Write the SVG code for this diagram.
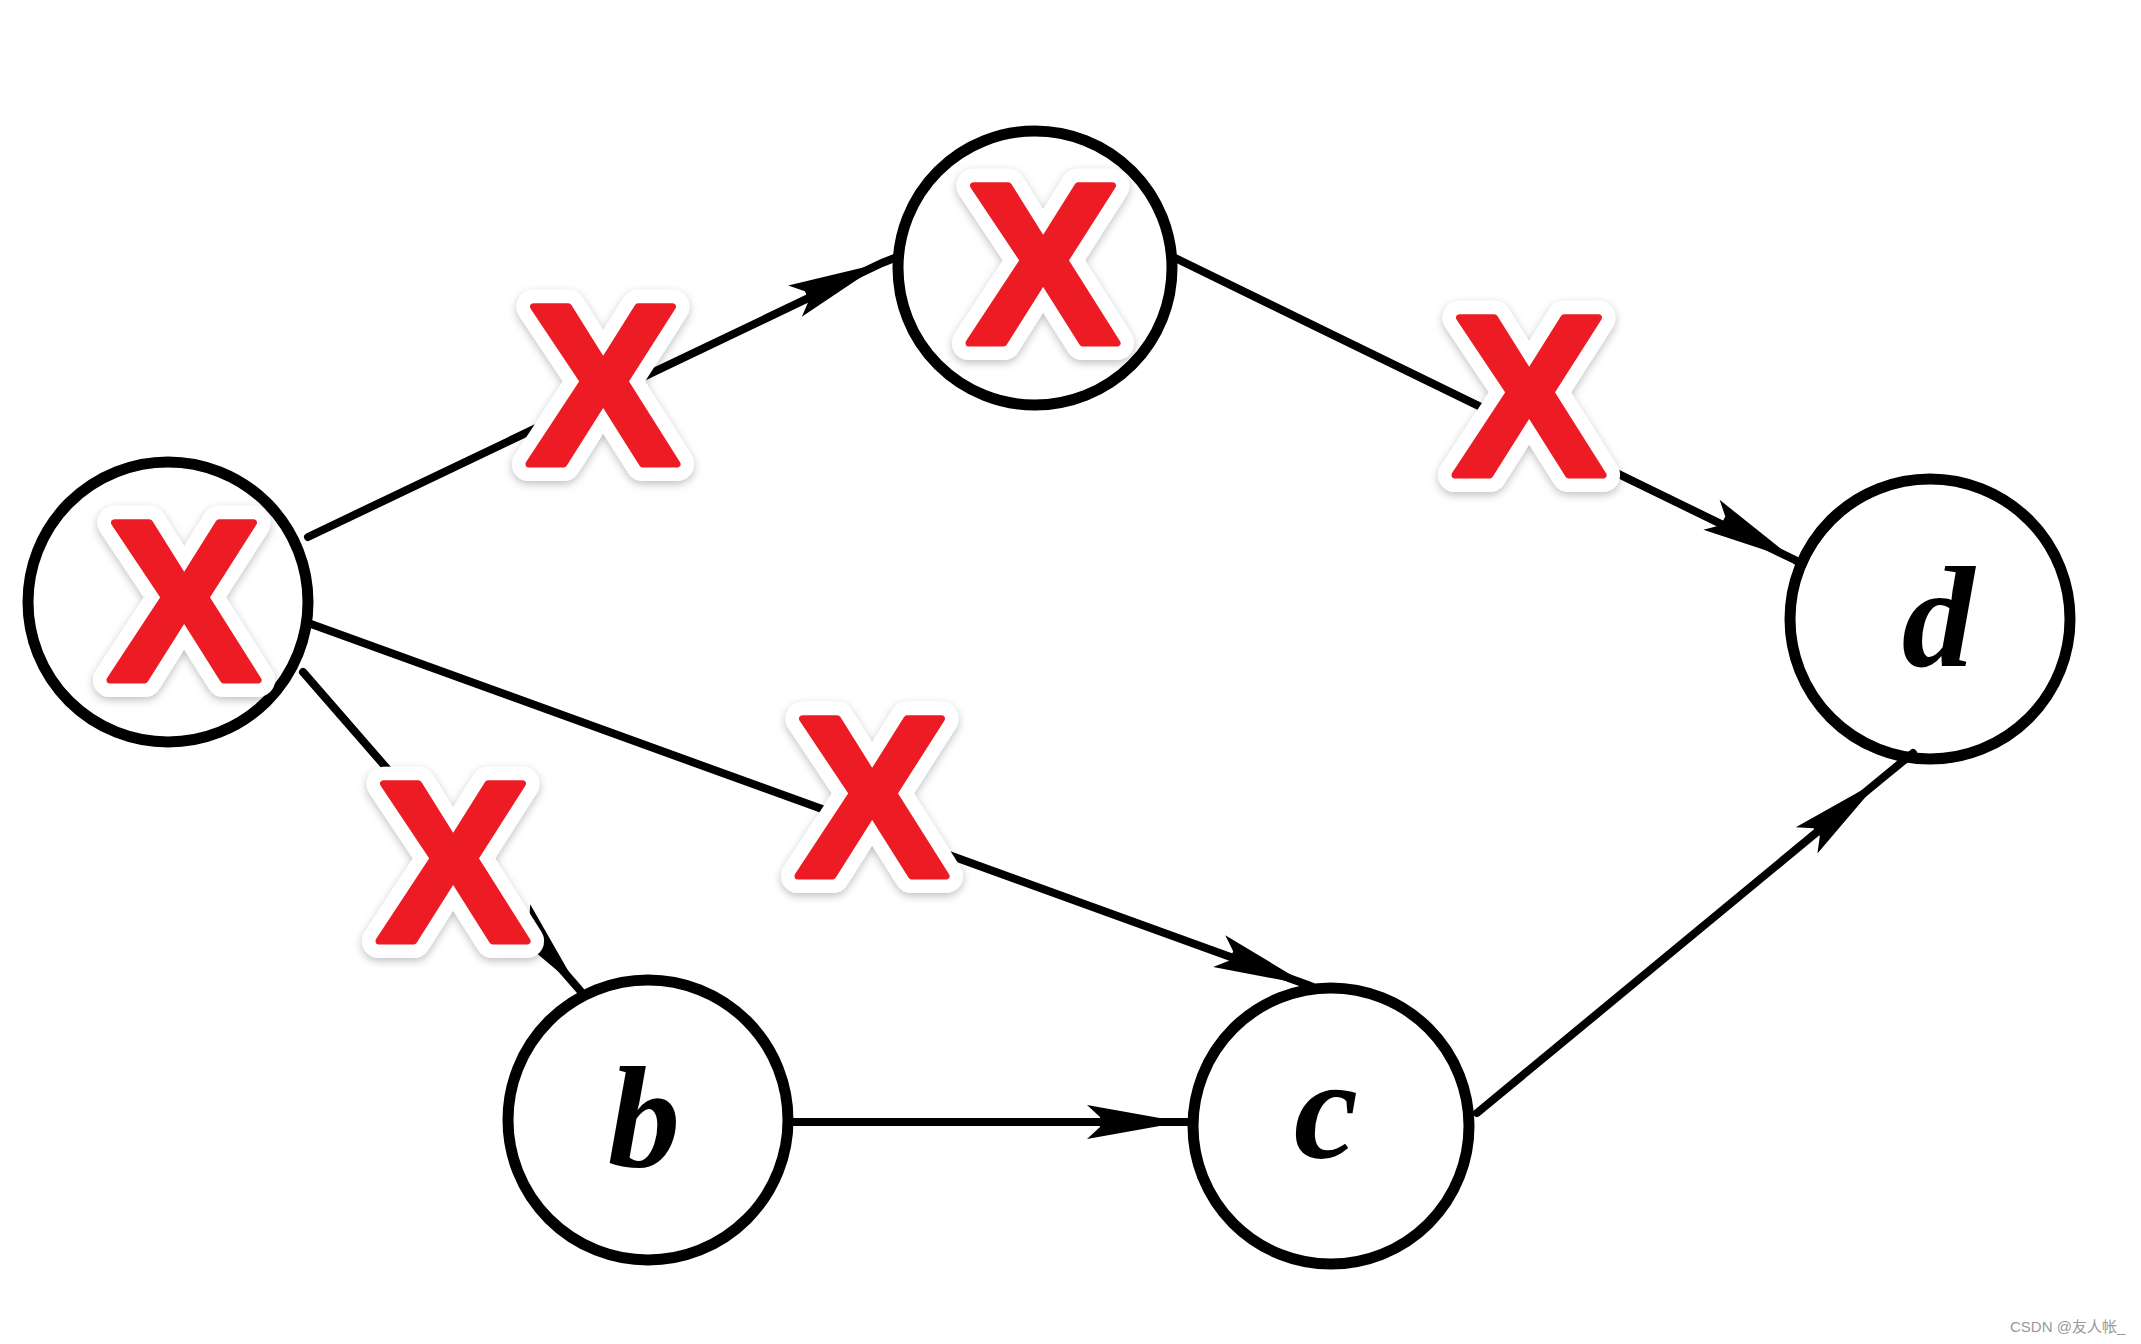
<svg xmlns="http://www.w3.org/2000/svg" width="2141" height="1344" viewBox="0 0 2141 1344">
<style>
.node circle{fill:none;stroke:#000;stroke-width:11}
.edge{fill:none;stroke:#000;stroke-width:8;stroke-linecap:round;marker-mid:url(#arr)}
.lbl{font-family:"Liberation Serif",serif;font-style:italic;font-weight:bold;font-size:145px;fill:#000;text-anchor:middle}
.x text{font-family:"Liberation Sans",Arial,sans-serif;font-weight:bold;font-size:228px;text-anchor:middle;stroke-linejoin:round}
.xo{fill:#fff;stroke:#fff;stroke-width:34;filter:url(#sh)}
.xi{fill:#ED1C24;stroke:#ED1C24;stroke-width:7}
.wm{font-family:"Liberation Sans","Noto Sans CJK SC",sans-serif;font-size:15px;fill:#999}
</style>
<defs>
<marker id="arr" markerUnits="userSpaceOnUse" markerWidth="120" markerHeight="60" refX="0" refY="0" viewBox="-110 -30 120 60" orient="auto">
<path d="M0,0 L-95,-17 L-82,-5 L-82,5 L-95,17 Z" fill="#000"/>
</marker>
<filter id="sh" x="-20%" y="-20%" width="140%" height="140%">
<feDropShadow dx="0" dy="3" stdDeviation="4" flood-color="#000" flood-opacity="0.25"/>
</filter>
</defs>
<rect width="2141" height="1344" fill="#fff"/>
<g id="edges">
<path class="edge" d="M308,537 L882,263 L897,257"/>
<path class="edge" d="M1173,257 L1795,560 L1800,563"/>
<path class="edge" d="M303,672 L578,988 L582,993"/>
<path class="edge" d="M311,624 L1308,985 L1313,987"/>
<path class="edge" d="M790,1122 L1182,1122 L1190,1122"/>
<path class="edge" d="M1477,1113 L1880,780 L1913,753"/>
</g>
<g id="node-a" class="node"><circle cx="168" cy="602" r="140"/></g>
<g id="node-top" class="node"><circle cx="1035" cy="268" r="137"/></g>
<g id="node-d" class="node"><circle cx="1930" cy="619" r="140"/><text class="lbl" x="1938" y="666">d</text></g>
<g id="node-b" class="node"><circle cx="648" cy="1120" r="140"/><text class="lbl" x="644" y="1166">b</text></g>
<g id="node-c" class="node"><circle cx="1331" cy="1126" r="138"/><text class="lbl" x="1326" y="1158">c</text></g>
<g id="mark-1" class="x"><text class="xo" x="184" y="680">X</text><text class="xi" x="184" y="680">X</text></g>
<g id="mark-2" class="x"><text class="xo" x="1043" y="343">X</text><text class="xi" x="1043" y="343">X</text></g>
<g id="mark-3" class="x"><text class="xo" x="603" y="464">X</text><text class="xi" x="603" y="464">X</text></g>
<g id="mark-4" class="x"><text class="xo" x="1529" y="475">X</text><text class="xi" x="1529" y="475">X</text></g>
<g id="mark-5" class="x"><text class="xo" x="453" y="941">X</text><text class="xi" x="453" y="941">X</text></g>
<g id="mark-6" class="x"><text class="xo" x="872" y="876">X</text><text class="xi" x="872" y="876">X</text></g>
<text class="wm" x="2010" y="1332">CSDN @友人帐_</text>
</svg>
